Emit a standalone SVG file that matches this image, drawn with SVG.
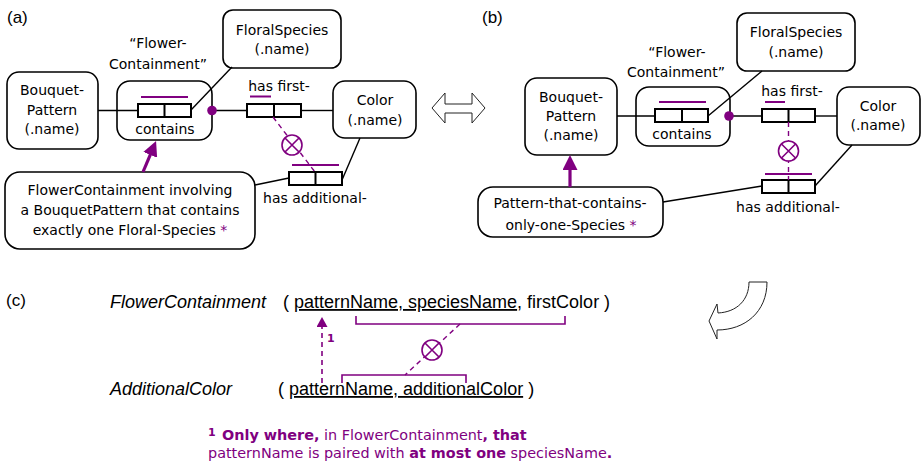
<svg xmlns="http://www.w3.org/2000/svg" xmlns:xlink="http://www.w3.org/1999/xlink" width="924" height="465" viewBox="0 0 924 465">
  <style>
    .box { fill: #fff; stroke: #000; stroke-width: 1.6; }
    .role { fill: #fff; stroke: #000; stroke-width: 2; }
    .div { stroke: #000; stroke-width: 2; }
    .ln { fill: none; stroke: #000; stroke-width: 1.4; }
    .uc { fill: none; stroke: #800080; stroke-width: 2; }
    .br { fill: none; stroke: #800080; stroke-width: 1.6; }
    .dash { fill: none; stroke: #800080; stroke-width: 1.4; stroke-dasharray: 5 4; }
    .sub { fill: none; stroke: #800080; stroke-width: 3.2; }
    .dot { fill: #800080; }
    .t { font-family: "DejaVu Sans", Verdana, sans-serif; font-size: 14px; fill: #000; text-anchor: middle; }
    .pl { font-family: "Liberation Sans", Arial, sans-serif; font-size: 17px; fill: #000; }
    .rel { font-family: "Liberation Sans", Arial, sans-serif; font-size: 18px; fill: #000; }
    .foot { font-family: "DejaVu Sans", Verdana, sans-serif; font-size: 14.4px; fill: #800080; }
    .sup { font-family: "DejaVu Sans", Verdana, sans-serif; font-size: 11px; font-weight: bold; fill: #800080; }
    .pu { fill: #800080; }
    .big { fill: #fff; stroke: #222; stroke-width: 1; }
  </style>
  <defs>
    <marker id="head" viewBox="0 0 15 15" markerWidth="15" markerHeight="15" refX="3" refY="7.5" orient="auto" markerUnits="userSpaceOnUse">
      <path d="M0,0 L15,7.5 L0,15 Z" fill="#800080"/>
    </marker>
    <marker id="headSmall" viewBox="0 0 10 11" markerWidth="10" markerHeight="11" refX="2" refY="5.5" orient="auto" markerUnits="userSpaceOnUse">
      <path d="M0,0 L10,5.5 L0,11 Z" fill="#800080"/>
    </marker>
    <g id="xor">
      <circle r="10" fill="#fff" stroke="#800080" stroke-width="1.6"/>
      <path d="M-7,-7 L7,7 M7,-7 L-7,7" stroke="#800080" stroke-width="1.6"/>
    </g>
  </defs>

  <rect width="924" height="465" fill="#fff"/>

  <!-- panel labels -->
  <text class="pl" x="7" y="23">(a)</text>
  <text class="pl" x="482" y="23">(b)</text>
  <text class="pl" x="6" y="306">(c)</text>

  <!-- ===== schema (a) ===== -->
  <g id="a-floral-species">
    <rect class="box" x="223" y="10" width="118" height="58" rx="10"/>
    <text class="t" x="282" y="35">FloralSpecies</text>
    <text class="t" x="282" y="54">(.name)</text>
  </g>

  <g id="a-bouquet-pattern">
    <rect class="box" x="7" y="72" width="91" height="77" rx="12"/>
    <text class="t" x="52" y="95">Bouquet-</text>
    <text class="t" x="52" y="115">Pattern</text>
    <text class="t" x="52" y="134">(.name)</text>
  </g>

  <g id="a-flower-containment">
    <text class="t" x="158" y="48">“Flower-</text>
    <text class="t" x="158" y="69">Containment”</text>
    <rect class="box" x="117" y="81" width="95" height="59" rx="13"/>
    <line class="uc" x1="141" y1="97" x2="188" y2="97"/>
    <rect class="role" x="138" y="104" width="53" height="13"/>
    <line class="div" x1="164.5" y1="104" x2="164.5" y2="117"/>
    <text class="t" x="165" y="134">contains</text>
  </g>

  <g id="a-color">
    <rect class="box" x="333" y="81" width="83" height="57" rx="12"/>
    <text class="t" x="375" y="105">Color</text>
    <text class="t" x="375" y="125">(.name)</text>
  </g>

  <g id="a-has-first">
    <text class="t" x="279" y="91">has first-</text>
    <line class="uc" x1="250" y1="96.5" x2="271" y2="96.5"/>
    <rect class="role" x="247" y="104" width="54" height="13"/>
    <line class="div" x1="274" y1="104" x2="274" y2="117"/>
  </g>

  <g id="a-has-additional">
    <line class="uc" x1="292" y1="165" x2="339" y2="165"/>
    <rect class="role" x="289" y="172" width="53" height="13"/>
    <line class="div" x1="315.5" y1="172" x2="315.5" y2="185"/>
    <text class="t" x="315" y="203">has additional-</text>
  </g>

  <g id="a-subtype">
    <rect class="box" x="5" y="172" width="250" height="77" rx="15"/>
    <text class="t" x="130" y="195">FlowerContainment involving</text>
    <text class="t" x="130" y="215">a BouquetPattern that contains</text>
    <text class="t" x="130" y="235">exactly one Floral-Species <tspan class="pu">*</tspan></text>
  </g>

  <g id="a-connectors">
    <line class="ln" x1="98" y1="110.5" x2="138" y2="110.5"/>
    <line class="ln" x1="191" y1="110" x2="232" y2="67"/>
    <line class="ln" x1="212" y1="110.5" x2="247" y2="110.5"/>
    <line class="ln" x1="301" y1="110.5" x2="333" y2="110.5"/>
    <line class="ln" x1="342" y1="180" x2="360" y2="138"/>
    <line class="ln" x1="255" y1="185" x2="289" y2="178"/>
    <line class="dash" x1="273" y1="117" x2="315" y2="172"/>
    <use xlink:href="#xor" x="292" y="145"/>
    <circle class="dot" cx="212" cy="110.5" r="4.8"/>
    <line class="sub" x1="143" y1="172" x2="151.4" y2="152.1" marker-end="url(#head)"/>
  </g>

  <!-- equivalence arrow between (a) and (b) -->
  <path class="big" d="M432,108 L445,93 L445,104 L472,104 L472,93 L485,108 L472,123 L472,113 L445,113 L445,123 Z"/>

  <!-- ===== schema (b) ===== -->
  <g id="b-floral-species">
    <rect class="box" x="737" y="13" width="118" height="58" rx="10"/>
    <text class="t" x="796" y="37">FloralSpecies</text>
    <text class="t" x="796" y="57">(.name)</text>
  </g>

  <g id="b-bouquet-pattern">
    <rect class="box" x="525" y="78" width="92" height="77" rx="12"/>
    <text class="t" x="571" y="102">Bouquet-</text>
    <text class="t" x="571" y="121">Pattern</text>
    <text class="t" x="571" y="140">(.name)</text>
  </g>

  <g id="b-flower-containment">
    <text class="t" x="677" y="57">“Flower-</text>
    <text class="t" x="676" y="77">Containment”</text>
    <rect class="box" x="636" y="87" width="94" height="59" rx="13"/>
    <line class="uc" x1="659" y1="102" x2="706" y2="102"/>
    <rect class="role" x="655" y="109" width="53" height="13"/>
    <line class="div" x1="682" y1="109" x2="682" y2="122"/>
    <text class="t" x="682" y="139">contains</text>
  </g>

  <g id="b-color">
    <rect class="box" x="837" y="87" width="83" height="58" rx="12"/>
    <text class="t" x="878" y="111">Color</text>
    <text class="t" x="878" y="130">(.name)</text>
  </g>

  <g id="b-has-first">
    <text class="t" x="792" y="96">has first-</text>
    <line class="uc" x1="765" y1="102" x2="785" y2="102"/>
    <rect class="role" x="762" y="109" width="53" height="13"/>
    <line class="div" x1="788.5" y1="109" x2="788.5" y2="122"/>
  </g>

  <g id="b-has-additional">
    <line class="uc" x1="765" y1="174" x2="812" y2="174"/>
    <rect class="role" x="762" y="180" width="53" height="13"/>
    <line class="div" x1="788.5" y1="180" x2="788.5" y2="193"/>
    <text class="t" x="788" y="212">has additional-</text>
  </g>

  <g id="b-subtype">
    <rect class="box" x="478" y="187" width="185" height="50" rx="15"/>
    <text class="t" x="570" y="208">Pattern-that-contains-</text>
    <text class="t" x="571" y="230">only-one-Species <tspan class="pu">*</tspan></text>
  </g>

  <g id="b-connectors">
    <line class="ln" x1="617" y1="116" x2="655" y2="116"/>
    <line class="ln" x1="708" y1="116" x2="762" y2="71"/>
    <line class="ln" x1="729" y1="116" x2="762" y2="116"/>
    <line class="ln" x1="815" y1="116" x2="837" y2="116"/>
    <line class="ln" x1="815" y1="186" x2="852" y2="145"/>
    <line class="ln" x1="663" y1="202" x2="762" y2="186"/>
    <line class="dash" x1="788.5" y1="122" x2="788.5" y2="180"/>
    <use xlink:href="#xor" x="788.5" y="151"/>
    <circle class="dot" cx="729" cy="116" r="4.8"/>
    <line class="sub" x1="570" y1="187" x2="570" y2="167" marker-end="url(#head)"/>
  </g>

  <!-- mapping arrow from (b) to (c) -->
  <path class="big" d="M767,282 L749,282 C749,300 737,312 718,313 L717,304 L709,321 L717,339 L717,330 C745,330 767,312 767,282 Z"/>

  <!-- ===== relational schema (c) ===== -->
  <g id="c-flower-containment">
    <text class="rel" x="110" y="308"><tspan font-style="italic">FlowerContainment</tspan></text>
    <text class="rel" x="283" y="308" xml:space="preserve">( <tspan text-decoration="underline">patternName, speciesName</tspan>, firstColor )</text>
  </g>

  <g id="c-additional-color">
    <text class="rel" x="110" y="395"><tspan font-style="italic">AdditionalColor</tspan></text>
    <text class="rel" x="278" y="395" xml:space="preserve">( <tspan text-decoration="underline">patternName, additionalColor</tspan> )</text>
  </g>

  <g id="c-constraints">
    <path class="br" d="M356,316 V324 H565 V316"/>
    <path class="br" d="M342,383 V375 H466 V383"/>
    <line class="dash" x1="460" y1="324" x2="405" y2="375"/>
    <use xlink:href="#xor" x="432" y="350"/>
    <line class="dash" x1="322" y1="383" x2="322" y2="325" style="stroke-width:1.6" marker-end="url(#headSmall)"/>
    <text class="sup" x="327" y="342">1</text>
  </g>

  <g id="c-footnote">
    <text class="sup" x="208" y="436">1</text>
    <text class="foot" x="222" y="440"><tspan font-weight="bold">Only where,</tspan> in FlowerContainment<tspan font-weight="bold">, that</tspan></text>
    <text class="foot" x="208" y="458">patternName is paired with <tspan font-weight="bold">at most one</tspan> speciesName<tspan font-weight="bold">.</tspan></text>
  </g>
</svg>
